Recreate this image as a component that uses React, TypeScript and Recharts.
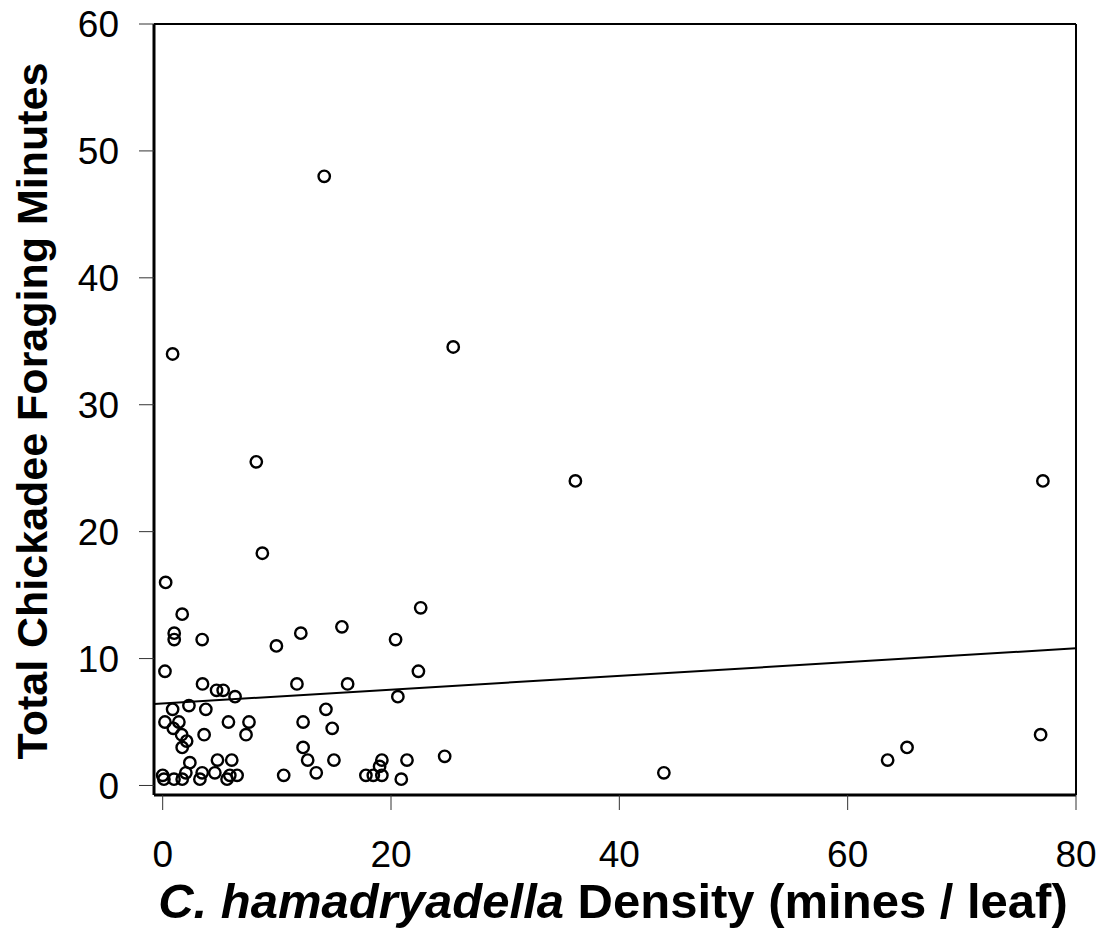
import React from "react";
import {
  ScatterChart,
  Scatter,
  XAxis,
  YAxis,
  ReferenceLine,
  Label,
} from "recharts";

// mines per leaf
const density = [
  14.15, 0.87, 25.45, 8.2, 36.15, 77.1, 8.73, 0.26, 1.71, 22.6,
  1.01, 1.01, 3.46, 9.96, 12.1, 15.7, 20.4, 0.2, 22.4, 3.49,
  11.76, 16.2, 4.72, 5.3, 6.34, 20.6, 2.3, 0.87, 3.78, 14.3,
  0.2, 1.42, 5.76, 7.56, 12.3, 0.93, 14.85, 1.66, 3.63, 7.3,
  76.9, 2.1, 1.71, 12.3, 65.2, 24.7, 2.38, 4.8, 6.05, 12.7,
  15.0, 19.2, 21.4, 63.5, 19.0, 2.03, 3.46, 4.57, 13.45, 43.9,
  0.0, 5.88, 6.52, 10.6, 17.8, 18.45, 19.2, 0.11, 0.99, 1.71,
  3.26, 5.64, 20.9,
];

// total foraging minutes
const minutes = [
  48, 34, 34.55, 25.5, 24, 24, 18.3, 16, 13.5, 14,
  12, 11.5, 11.5, 11, 12, 12.5, 11.5, 9, 9, 8,
  8, 8, 7.5, 7.5, 7, 7, 6.3, 6, 6, 6,
  5, 5, 5, 5, 5, 4.5, 4.5, 4, 4, 4,
  4, 3.5, 3, 3, 3, 2.3, 1.8, 2, 2, 2,
  2, 2, 2, 2, 1.5, 1, 1, 1, 1, 1,
  0.8, 0.8, 0.8, 0.8, 0.8, 0.8, 0.8, 0.5, 0.5, 0.5,
  0.5, 0.5, 0.5,
];

const xTicks = [0, 20, 40, 60, 80];
const yTicks = [0, 10, 20, 30, 40, 50, 60];

// fitted line
const intercept = 6.46;
const slope = 0.0544;

const xMin = -0.76;
const xMax = 80;
const yMin = -0.75;
const yMax = 60;

const points = density.map((d, i) => ({ x: d, y: minutes[i] }));

const font = "'Liberation Sans', Arial, sans-serif";

const OpenCircle = (props: any) => (
  <circle
    cx={props.cx}
    cy={props.cy}
    r={5.7}
    fill="none"
    stroke="#000"
    strokeWidth={2.4}
  />
);

const XTitle = (props: any) => {
  const vb = props.viewBox;
  const cx = vb.x + vb.width / 2 - 2;
  return (
    <text
      x={cx}
      y={918}
      textAnchor="middle"
      fontSize={49}
      fontWeight="bold"
      fontFamily={font}
      fill="#000"
    >
      <tspan fontStyle="italic">C. hamadryadella</tspan>
      <tspan> Density (mines / leaf)</tspan>
    </text>
  );
};

const YTitle = () => (
  <text
    x={0}
    y={0}
    transform="translate(47, 411) rotate(-90)"
    textAnchor="middle"
    fontSize={43}
    fontWeight="bold"
    fontFamily={font}
    fill="#000"
  >
    Total Chickadee Foraging Minutes
  </text>
);

export default function App() {
  return (
    <div style={{ position: "absolute", left: 0, top: 0, background: "#fff" }}>
      <ScatterChart
        width={1105}
        height={949}
        margin={{ top: 24, right: 29, bottom: 0, left: 0 }}
        style={{ fontFamily: font }}
      >
        <XAxis
          type="number"
          dataKey="x"
          domain={[xMin, xMax]}
          ticks={xTicks}
          allowDataOverflow
          height={154}
          tickSize={15}
          tickMargin={31}
          axisLine={{ stroke: "#000", strokeWidth: 3 }}
          tickLine={{ stroke: "#333", strokeWidth: 1 }}
          tick={{ fontSize: 37, fill: "#000", fontFamily: font }}
        >
          <Label content={<XTitle />} />
        </XAxis>
        <YAxis
          type="number"
          dataKey="y"
          domain={[yMin, yMax]}
          ticks={yTicks}
          allowDataOverflow
          width={154}
          tickSize={15}
          tickMargin={20}
          axisLine={{ stroke: "#000", strokeWidth: 3 }}
          tickLine={{ stroke: "#333", strokeWidth: 1 }}
          tick={{ fontSize: 37, fill: "#000", fontFamily: font }}
        >
          <Label content={<YTitle />} />
        </YAxis>
        <ReferenceLine y={yMax} stroke="#000" strokeWidth={2} />
        <ReferenceLine x={xMax} stroke="#000" strokeWidth={2} />
        <ReferenceLine
          segment={[
            { x: xMin, y: intercept + slope * xMin },
            { x: xMax, y: intercept + slope * xMax },
          ]}
          stroke="#000"
          strokeWidth={2}
        />
        <Scatter data={points} shape={<OpenCircle />} isAnimationActive={false} />
      </ScatterChart>
    </div>
  );
}
